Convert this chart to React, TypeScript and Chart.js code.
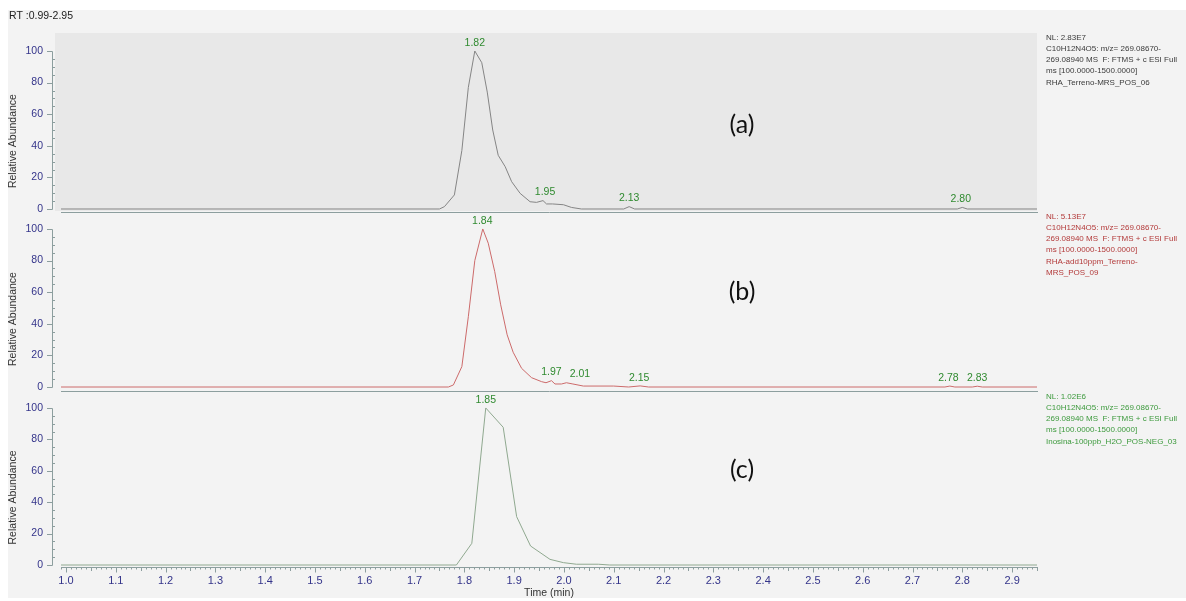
import React, { useEffect, useRef } from 'react';
import { Chart, registerables } from 'chart.js';
Chart.register(...registerables);

// ---------- data ----------
const rtRangeLabel = 'RT :0.99-2.95';
const xMin = 0.99;
const xMax = 2.95;
const xTickValues = [1.0, 1.1, 1.2, 1.3, 1.4, 1.5, 1.6, 1.7, 1.8, 1.9, 2.0, 2.1, 2.2, 2.3, 2.4, 2.5, 2.6, 2.7, 2.8, 2.9];
const yTickValues = [0, 20, 40, 60, 80, 100];

// Panel (a)
const timesA = [0.99, 1.75, 1.76, 1.78, 1.795, 1.808, 1.821, 1.835, 1.846, 1.857, 1.868, 1.882, 1.895, 1.912, 1.932, 1.945, 1.958, 1.965, 1.977, 1.999, 2.015, 2.035, 2.12, 2.131, 2.142, 2.79, 2.80, 2.81, 2.95];
const abundA = [0, 0, 1.5, 8.9, 37, 77, 100, 92.6, 74, 50, 34, 26.8, 17.3, 9.9, 4.6, 4.2, 5.3, 3.2, 3.2, 2.7, 1.0, 0, 0, 1.5, 0, 0, 1.0, 0, 0];
const peakTimesA = [1.821, 1.962, 2.131, 2.797];
const peakValsA = [100, 5.3, 1.5, 1.0];
const peakLabelsA = ['1.82', '1.95', '2.13', '2.80'];
const infoA = ['NL: 2.83E7', 'C10H12N4O5: m/z= 269.08670-', '269.08940 MS  F: FTMS + c ESI Full', 'ms [100.0000-1500.0000]', 'RHA_Terreno-MRS_POS_06'];

// Panel (b)
const timesB = [0.99, 1.768, 1.778, 1.795, 1.808, 1.821, 1.837, 1.848, 1.861, 1.873, 1.886, 1.898, 1.915, 1.935, 1.955, 1.964, 1.975, 1.982, 1.995, 2.005, 2.018, 2.039, 2.10, 2.13, 2.153, 2.17, 2.765, 2.775, 2.785, 2.82, 2.83, 2.84, 2.95];
const abundB = [0, 0, 1.3, 12.9, 44.5, 80, 100, 91, 73, 52, 33, 22, 11.8, 5.9, 3.4, 2.7, 4.0, 1.9, 1.9, 2.7, 1.9, 0.6, 0.6, 0, 0.7, 0, 0, 0.6, 0, 0, 0.5, 0, 0];
const peakTimesB = [1.836, 1.975, 2.032, 2.151, 2.772, 2.830];
const peakValsB = [100, 4.0, 2.7, 0.7, 0.6, 0.5];
const peakLabelsB = ['1.84', '1.97', '2.01', '2.15', '2.78', '2.83'];
const infoB = ['NL: 5.13E7', 'C10H12N4O5: m/z= 269.08670-', '269.08940 MS  F: FTMS + c ESI Full', 'ms [100.0000-1500.0000]', 'RHA-add10ppm_Terreno-', 'MRS_POS_09'];

// Panel (c)
const timesC = [0.99, 1.784, 1.815, 1.843, 1.878, 1.905, 1.933, 1.972, 1.999, 2.025, 2.069, 2.092, 2.95];
const abundC = [0, 0, 13.8, 100, 87.7, 30.8, 12.1, 3.6, 1.5, 0.5, 0.5, 0, 0];
const peakTimesC = [1.843];
const peakValsC = [100];
const peakLabelsC = ['1.85'];
const infoC = ['NL: 1.02E6', 'C10H12N4O5: m/z= 269.08670-', '269.08940 MS  F: FTMS + c ESI Full', 'ms [100.0000-1500.0000]', 'Inosina-100ppb_H2O_POS-NEG_03'];

const panelLetters = ['(a)', '(b)', '(c)'];
const yTitle = 'Relative Abundance';
const xTitle = 'Time (min)';

// ---------- styles ----------
const FONT = '"Liberation Sans", Arial, sans-serif';
const AXIS_COLOR = '#8c9e9e';
const TICK_COLOR = '#34348a';
const PEAK_COLOR = '#2f8a2f';

type PanelCfg = {
  key: string;
  top: number;
  height: number;
  padTop: number;
  xHeight: number;
  yMin: number;
  yMax: number;
  times: number[];
  values: number[];
  lineColor: string;
  peakTimes: number[];
  peakVals: number[];
  peakLabels: string[];
  info: string[];
  infoColor: string;
  infoY: number;
  letter: string;
  letterY: number;
  shaded: boolean;
  showX: boolean;
  showRT: boolean;
};

const panels: PanelCfg[] = [
  {
    key: 'a', top: 0, height: 220, padTop: 33, xHeight: 8, yMin: -1.9, yMax: 111.4,
    times: timesA, values: abundA, lineColor: '#858585',
    peakTimes: peakTimesA, peakVals: peakValsA, peakLabels: peakLabelsA,
    info: infoA, infoColor: '#3a3a3a', infoY: 37.5, letter: panelLetters[0], letterY: 125,
    shaded: true, showX: false, showRT: true,
  },
  {
    key: 'b', top: 200, height: 200, padTop: 13, xHeight: 9, yMin: -2.53, yMax: 110.1,
    times: timesB, values: abundB, lineColor: '#cc6a6a',
    peakTimes: peakTimesB, peakVals: peakValsB, peakLabels: peakLabelsB,
    info: infoB, infoColor: '#b33a3a', infoY: 216.5, letter: panelLetters[1], letterY: 292,
    shaded: false, showX: false, showRT: false,
  },
  {
    key: 'c', top: 380, height: 221, padTop: 11, xHeight: 34, yMin: -1.27, yMax: 110.8,
    times: timesC, values: abundC, lineColor: '#8fa88f',
    peakTimes: peakTimesC, peakVals: peakValsC, peakLabels: peakLabelsC,
    info: infoC, infoColor: '#3d9a3d', infoY: 396.5, letter: panelLetters[2], letterY: 470,
    shaded: false, showX: true, showRT: false,
  },
];

function makePlugin(p: PanelCfg) {
  return {
    id: 'panelDeco' + p.key,
    beforeDraw(chart: any) {
      if (!p.shaded) return;
      const { ctx, chartArea } = chart;
      ctx.save();
      ctx.fillStyle = '#e8e8e8';
      ctx.fillRect(55, chartArea.top, chartArea.right - 55, chartArea.bottom - chartArea.top - 1);
      ctx.restore();
    },
    afterDraw(chart: any) {
      const { ctx, chartArea } = chart;
      const ys = chart.scales.y;
      const xs = chart.scales.x;
      ctx.save();
      // y axis line with ticks
      ctx.strokeStyle = AXIS_COLOR;
      ctx.lineWidth = 1;
      ctx.beginPath();
      const ax = 52.5;
      ctx.moveTo(ax, Math.round(ys.getPixelForValue(0)) + 0.5);
      ctx.lineTo(ax, Math.round(ys.getPixelForValue(100)) + 0.5);
      for (let v = 0; v <= 100; v += 5) {
        const y = Math.round(ys.getPixelForValue(v)) + 0.5;
        if (v % 20 === 0) {
          ctx.moveTo(47, y);
          ctx.lineTo(ax, y);
        } else {
          ctx.moveTo(ax, y);
          ctx.lineTo(55, y);
        }
      }
      ctx.stroke();

      // x axis minor ticks
      if (p.showX) {
        ctx.beginPath();
        const by = Math.round(chartArea.bottom) + 0.5;
        for (let i = 99; i <= 295; i++) {
          const x = Math.round(xs.getPixelForValue(i / 100)) + 0.5;
          const len = i % 10 === 0 ? 5 : i % 5 === 0 ? 3.5 : 2;
          ctx.moveTo(x, by);
          ctx.lineTo(x, by + len);
        }
        ctx.stroke();
      }

      // peak labels
      ctx.fillStyle = PEAK_COLOR;
      ctx.font = '10.5px ' + FONT;
      ctx.textAlign = 'center';
      ctx.textBaseline = 'bottom';
      p.peakTimes.forEach((t, i) => {
        const x = xs.getPixelForValue(t);
        const y = ys.getPixelForValue(p.peakVals[i]);
        ctx.fillText(p.peakLabels[i], x, y - 3);
      });

      // info text
      ctx.fillStyle = p.infoColor;
      ctx.font = '8px ' + FONT;
      ctx.textAlign = 'left';
      ctx.textBaseline = 'middle';
      p.info.forEach((line, i) => {
        ctx.fillText(line, 1046, p.infoY - p.top + i * 11.2);
      });

      // panel letter
      ctx.fillStyle = '#111';
      ctx.font = '25px Lato, "Open Sans", sans-serif';
      ctx.textAlign = 'center';
      ctx.textBaseline = 'middle';
      ctx.fillText(p.letter, 742, p.letterY - p.top);

      // y title
      ctx.save();
      ctx.fillStyle = '#333';
      ctx.font = '10.5px ' + FONT;
      ctx.translate(13, ys.getPixelForValue(43));
      ctx.rotate(-Math.PI / 2);
      ctx.textAlign = 'center';
      ctx.textBaseline = 'middle';
      ctx.fillText(yTitle, 0, 0);
      ctx.restore();

      if (p.showX) {
        ctx.fillStyle = '#333';
        ctx.font = '10.5px ' + FONT;
        ctx.textAlign = 'center';
        ctx.textBaseline = 'middle';
        ctx.fillText(xTitle, (chartArea.left + chartArea.right) / 2, 593 - p.top);
      }
      if (p.showRT) {
        ctx.fillStyle = '#222';
        ctx.font = '10.5px ' + FONT;
        ctx.textAlign = 'left';
        ctx.textBaseline = 'middle';
        ctx.fillText(rtRangeLabel, 9, 16 - p.top);
      }
      ctx.restore();
    },
  };
}

function Panel({ p }: { p: PanelCfg }) {
  const ref = useRef<HTMLCanvasElement>(null);
  useEffect(() => {
    if (!ref.current) return;
    const chart = new Chart(ref.current, {
      type: 'line',
      data: {
        datasets: [
          {
            data: p.times.map((t, i) => ({ x: t, y: p.values[i] })),
            borderColor: p.lineColor,
            borderWidth: 1,
            pointRadius: 0,
            tension: 0,
            fill: false,
          },
        ],
      },
      options: {
        animation: false,
        responsive: false,
        maintainAspectRatio: false,
        devicePixelRatio: 1,
        layout: { padding: { top: p.padTop, right: 149, bottom: 0, left: 0 } },
        plugins: { legend: { display: false }, tooltip: { enabled: false } },
        scales: {
          x: {
            type: 'linear',
            min: xMin,
            max: xMax,
            afterBuildTicks: (s: any) => {
              s.ticks = xTickValues.map((v) => ({ value: v }));
            },
            afterFit: (s: any) => {
              s.height = p.xHeight;
            },
            ticks: {
              display: p.showX,
              color: TICK_COLOR,
              font: { family: FONT, size: 11 },
              padding: 0,
              autoSkip: false,
              maxRotation: 0,
              callback: (v: any) => Number(v).toFixed(1),
            },
            grid: { display: false, drawTicks: true, tickLength: 7 },
            border: { display: true, color: AXIS_COLOR, width: 1 },
          },
          y: {
            type: 'linear',
            min: p.yMin,
            max: p.yMax,
            afterBuildTicks: (s: any) => {
              s.ticks = yTickValues.map((v) => ({ value: v }));
            },
            afterFit: (s: any) => {
              s.width = 61;
            },
            ticks: {
              color: TICK_COLOR,
              font: { family: FONT, size: 10.5 },
              padding: 0,
              callback: (v: any) => String(v),
            },
            grid: { display: false, drawTicks: true, tickLength: 18 },
            border: { display: false },
          },
        },
      } as any,
      plugins: [makePlugin(p)],
    });
    return () => chart.destroy();
  }, [p]);
  return (
    <canvas
      ref={ref}
      width={1186}
      height={p.height}
      style={{ position: 'absolute', left: 0, top: p.top, width: 1186, height: p.height }}
    />
  );
}

export default function App() {
  return (
    <div style={{ position: 'fixed', left: 0, top: 0, width: 1186, height: 601, background: '#ffffff', overflow: 'hidden' }}>
      <div style={{ position: 'absolute', left: 8, top: 10, width: 1178, height: 588, background: '#f3f3f3' }} />
      {panels.map((p) => (
        <Panel key={p.key} p={p} />
      ))}
    </div>
  );
}
